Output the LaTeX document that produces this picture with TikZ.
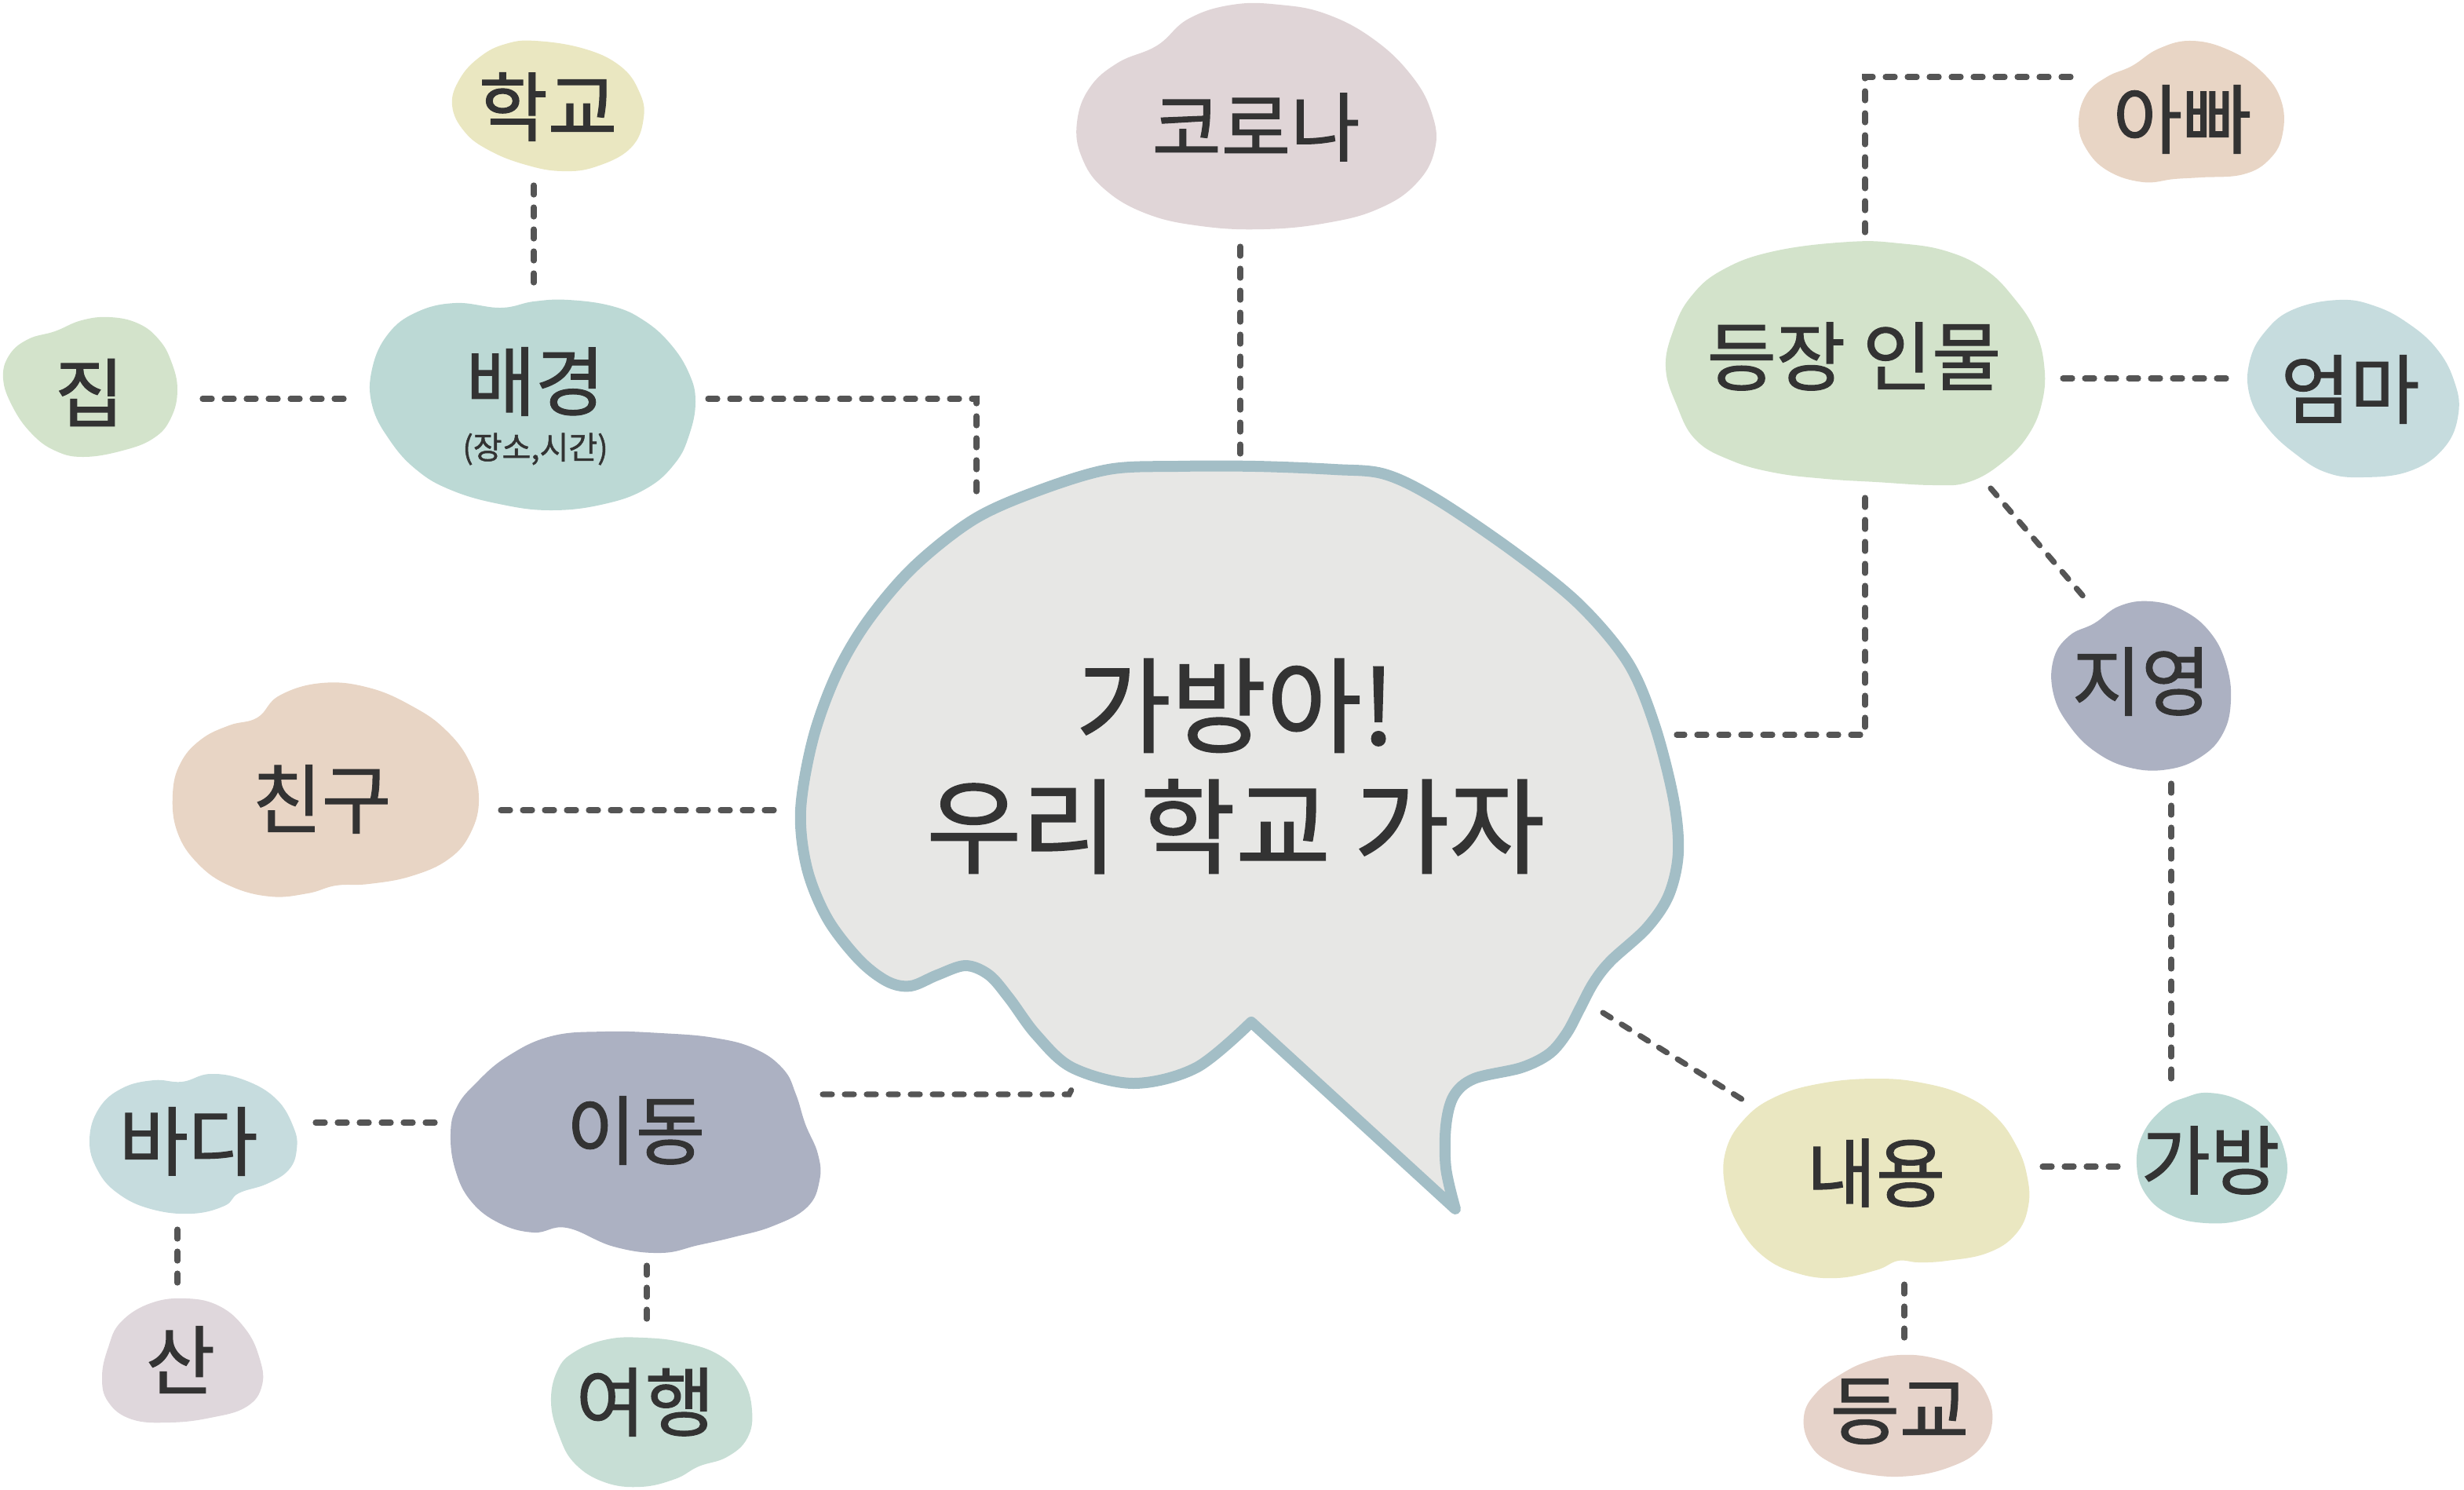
\documentclass[tikz,border=0pt]{standalone}
\usepackage{fontspec}
\setmainfont[FakeBold=1.2]{Noto Sans CJK KR}
\definecolor{bubfill}{HTML}{E7E7E5}
\definecolor{bubline}{HTML}{A3BEC6}
\definecolor{cyel}{HTML}{EAE7C1}
\definecolor{cteal}{HTML}{BCD9D5}
\definecolor{cgreen}{HTML}{D3E3CB}
\definecolor{cpink}{HTML}{E0D5D7}
\definecolor{cpeach}{HTML}{E8D5C5}
\definecolor{cslate}{HTML}{ACB1C2}
\definecolor{cblue}{HTML}{C6DCDE}
\definecolor{cmauve}{HTML}{DFD7DC}
\definecolor{cmint}{HTML}{C7DED5}
\definecolor{crose}{HTML}{E6D3CA}
\definecolor{txt}{HTML}{333333}
\definecolor{dashc}{HTML}{555555}
\tikzset{
  lbl/.style={text=txt, inner sep=0pt, font=\fontsize{48}{56}\selectfont},
  sublbl/.style={text=txt, inner sep=0pt, font=\fontsize{20}{24}\selectfont},
  biglbl/.style={text=txt, inner sep=0pt, align=center, font=\fontsize{66}{77}\selectfont},
  dashln/.style={draw=dashc, line width=3.6pt, dash pattern=on 6pt off 8pt, line cap=round},
  blob/.style={smooth cycle, tension=0.7}
}
\begin{document}
\begin{tikzpicture}[x=1pt,y=-1pt]
\useasboundingbox (0,0) rectangle (1569.5,948.5);
% ---------- blobs ----------
% 학교
\fill[cyel] plot[blob] coordinates {(341,26) (372,31) (395,42) (407,58) (410,75) (402,94) (380,106) (358,109) (335,105) (312,96) (296,84) (288,67) (293,50) (306,36) (322,28)};
% 배경
\fill[cteal] plot[blob] coordinates {(319,196) (340,192) (362,191) (390,195) (410,204) (427,219) (439,238) (443,256) (439,277) (430,295) (412,311) (385,321) (351,325) (318,321) (287,312) (265,299) (248,280) (237,258) (237,235) (247,213) (265,199) (290,193)};
% 집
\fill[cgreen] plot[blob] coordinates {(35,211) (52,204) (70,202) (88,206) (101,216) (109,230) (113,248) (109,266) (98,279) (78,287) (53,291) (35,287) (20,276) (8,259) (2,241) (6,226) (18,216)};
% 코로나
\fill[cpink] plot[blob] coordinates {(737,29) (757,12) (785,3) (815,3) (845,9) (875,25) (899,48) (912,72) (914,95) (902,117) (878,133) (845,142) (805,146) (765,144) (730,136) (703,120) (689,100) (686,78) (694,56) (712,40)};
% 친구
\fill[cpeach] plot[blob] coordinates {(164,457) (178,443) (205,435) (235,438) (263,450) (284,465) (299,485) (305,508) (300,530) (286,547) (262,558) (235,563) (214,564) (196,569) (172,571) (146,564) (126,550) (113,530) (110,506) (115,486) (128,471) (146,462)};
% 이동
\fill[cslate] plot[blob] coordinates {(351,660) (385,657) (421,658) (455,661) (481,668) (499,681) (507,697) (513,716) (521,735) (522,752) (514,769) (492,781) (467,788) (445,793) (421,798) (391,794) (361,782) (340,785) (318,779) (300,765) (290,745) (287,722) (291,705) (303,690) (323,673)};
% 바다
\fill[cblue] plot[blob] coordinates {(116,689) (134,684) (156,688) (176,700) (187,718) (189,732) (184,745) (170,754) (152,760) (143,768) (122,773) (96,770) (75,760) (62,745) (57,726) (63,706) (78,693) (98,688)};
% 산
\fill[cmauve] plot[blob] coordinates {(119,827) (140,832) (156,846) (165,864) (167,882) (157,896) (134,903) (108,906) (84,904) (69,893) (65,877) (69,858) (77,842) (96,830)};
% 여행
\fill[cmint] plot[blob] coordinates {(410,852) (435,855) (458,863) (473,878) (479,898) (476,916) (463,928) (445,934) (430,942) (408,947) (385,944) (366,932) (356,914) (351,893) (355,873) (366,861) (387,853)};
% 아빠
\fill[cpeach] plot[blob] coordinates {(1358,42) (1375,31) (1396,26) (1420,32) (1441,46) (1453,64) (1454,85) (1446,101) (1429,111) (1402,113) (1385,114) (1365,116) (1343,109) (1329,95) (1324,78) (1329,60) (1342,49)};
% 등장 인물
\fill[cgreen] plot[blob] coordinates {(1178,154) (1210,155) (1240,160) (1265,172) (1283,190) (1296,210) (1302,232) (1301,255) (1292,277) (1275,295) (1254,307) (1232,309) (1195,307) (1163,305) (1130,301) (1102,293) (1080,280) (1068,258) (1061,234) (1066,210) (1077,189) (1097,172) (1130,160)};
% 엄마
\fill[cblue] plot[blob] coordinates {(1490,191) (1513,195) (1534,206) (1552,222) (1563,242) (1566,263) (1557,285) (1535,300) (1505,304) (1482,301) (1462,289) (1444,272) (1433,252) (1433,230) (1443,211) (1461,197)};
% 지영
\fill[cslate] plot[blob] coordinates {(1334,397) (1350,386) (1370,383) (1391,389) (1408,403) (1418,423) (1421,446) (1416,467) (1402,482) (1381,490) (1357,489) (1335,479) (1318,462) (1308,442) (1308,420) (1318,405)};
% 내용
\fill[cyel] plot[blob] coordinates {(1196,687) (1226,690) (1252,698) (1271,711) (1284,729) (1291,748) (1292,768) (1284,786) (1266,798) (1240,803) (1222,804) (1209,803) (1195,809) (1170,814) (1145,811) (1123,800) (1107,780) (1099,757) (1099,734) (1110,714) (1130,699) (1160,690)};
% 가방
\fill[cteal] plot[blob] coordinates {(1407,696) (1427,701) (1445,714) (1455,732) (1456,752) (1446,768) (1428,777) (1405,779) (1383,774) (1367,761) (1361,742) (1365,722) (1378,706) (1392,699)};
% 등교
\fill[crose] plot[blob] coordinates {(1173,875) (1190,867) (1210,863) (1232,865) (1252,873) (1265,887) (1269,906) (1261,923) (1243,934) (1217,940) (1190,939) (1167,932) (1153,920) (1149,902) (1157,887)};
% ---------- central bubble ----------
\filldraw[fill=bubfill, draw=bubline, line width=7pt, line join=round]
  plot[smooth, tension=0.55] coordinates {(927,770) (921,744) (921,717) (926,698) (939,687) (969,680) (987,671) (998,658) (1006,643) (1015,626) (1026,612) (1049,591) (1063,570) (1069,543) (1066,509) (1054,462) (1037,422) (1006,385) (965,352) (915,318) (882,302) (850,299) (800,297) (750,297) (706,299) (660,313) (620,331) (582,361) (553,395) (533,429) (518,470) (510,516) (514,553) (527,585) (547,611) (565,625) (580,628) (597,621) (615,615) (630,621) (643,636) (660,659) (683,680) (722,690) (762,680) (797,651)} -- cycle;
% ---------- labels ----------
\node[biglbl] (main) at (787,488) {가방아!\\우리 학교 가자};
\node[lbl] (school) at (349,68) {학교};
\node[lbl] (bg) at (341,243) {배경};
\node[sublbl] (bgsub) at (341,286) {(장소,시간)};
\node[lbl] (home) at (57,250) {집};
\node[lbl] (corona) at (800,81) {코로나};
\node[lbl] (friend) at (205,509) {친구};
\node[lbl] (move) at (405,720) {이동};
\node[lbl] (sea) at (120,727) {바다};
\node[lbl] (mount) at (115,866) {산};
\node[lbl] (trip) at (411,893) {여행};
\node[lbl] (dad) at (1390,76) {아빠};
\node[lbl] (chars) at (1181,227) {등장 인물};
\node[lbl] (mom) at (1497,248) {엄마};
\node[lbl] (jiyoung) at (1364,434) {지영};
\node[lbl] (story) at (1195,747) {내용};
\node[lbl] (bag) at (1408,739) {가방};
\node[lbl] (goschool) at (1210,899) {등교};
% ---------- connector end points ----------
\coordinate (homeE) at (129,254);
\coordinate (bgW) at (220,254);
\coordinate (schoolS) at (340,118);
\coordinate (bgN) at (340,183);
\coordinate (bgE) at (451,254);
\coordinate (bgC) at (622,254);
\coordinate (mainNW) at (622,315);
\coordinate (coronaS) at (790,157);
\coordinate (mainN) at (790,291);
\coordinate (friendE) at (319,516);
\coordinate (mainW) at (495,516);
\coordinate (moveE) at (524,697);
\coordinate (moveC) at (681,697);
\coordinate (mainSW) at (684,691);
\coordinate (seaE) at (201,715);
\coordinate (moveW) at (279,715);
\coordinate (seaS) at (113,783);
\coordinate (mountN) at (113,817);
\coordinate (moveS) at (412,806);
\coordinate (tripN) at (412,842);
\coordinate (charsN) at (1188,148);
\coordinate (charsC) at (1188,49);
\coordinate (dadW) at (1323,49);
\coordinate (charsE) at (1314,241);
\coordinate (momW) at (1421,241);
\coordinate (charsSE) at (1268,311);
\coordinate (jiyoungN) at (1328,381);
\coordinate (charsS) at (1188,317);
\coordinate (charsC2) at (1188,468);
\coordinate (mainE) at (1068,468);
\coordinate (jiyoungS) at (1383,499);
\coordinate (bagN) at (1383,689);
\coordinate (mainSE) at (1021,645);
\coordinate (storyNW) at (1111,701);
\coordinate (storyE) at (1301,743);
\coordinate (bagW) at (1351,743);
\coordinate (storyS) at (1213,818);
\coordinate (goschoolN) at (1213,852);
% ---------- connectors ----------
\draw[dashln] (homeE) -- (bgW);
\draw[dashln] (schoolS) -- (bgN);
\draw[dashln] (bgE) -- (bgC) -- (mainNW);
\draw[dashln] (coronaS) -- (mainN);
\draw[dashln] (friendE) -- (mainW);
\draw[dashln] (moveE) -- (moveC) -- (mainSW);
\draw[dashln] (seaE) -- (moveW);
\draw[dashln] (seaS) -- (mountN);
\draw[dashln] (moveS) -- (tripN);
\draw[dashln] (charsN) -- (charsC) -- (dadW);
\draw[dashln] (charsE) -- (momW);
\draw[dashln] (charsSE) -- (jiyoungN);
\draw[dashln] (charsS) -- (charsC2) -- (mainE);
\draw[dashln] (jiyoungS) -- (bagN);
\draw[dashln] (mainSE) -- (storyNW);
\draw[dashln] (storyE) -- (bagW);
\draw[dashln] (storyS) -- (goschoolN);
\end{tikzpicture}
\end{document}
